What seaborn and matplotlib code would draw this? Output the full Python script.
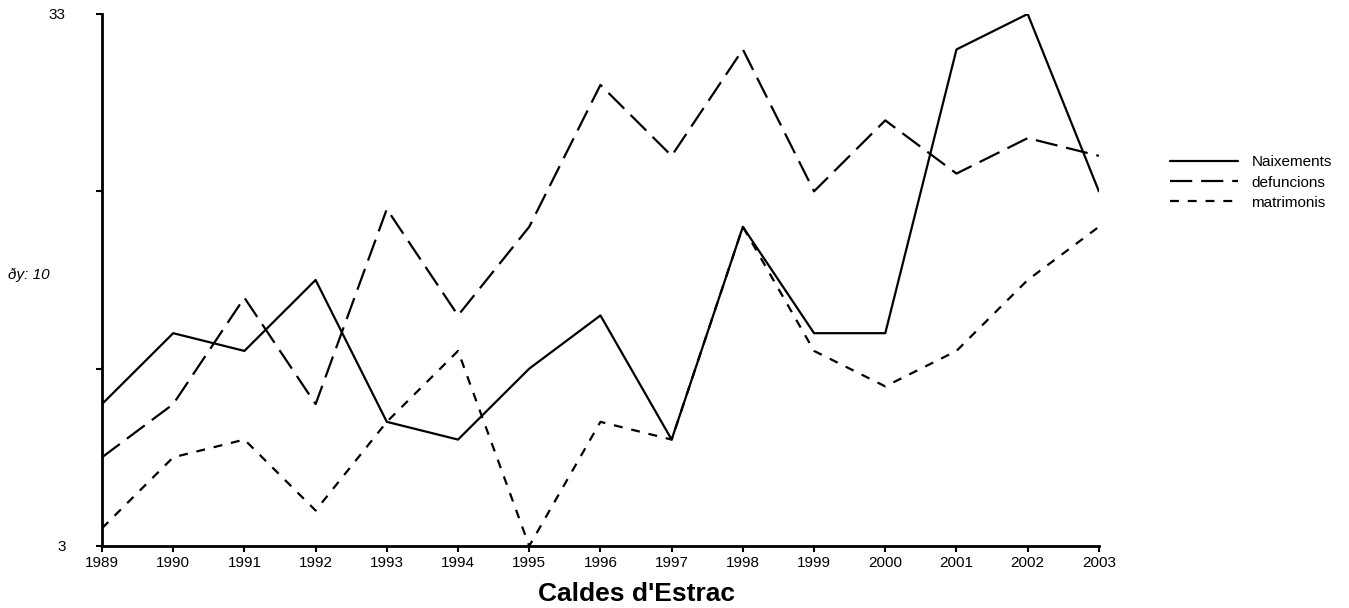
import numpy as np
import pandas as pd
import matplotlib
matplotlib.use('Agg')
import matplotlib.pyplot as plt
import seaborn as sns

years = [1989, 1990, 1991, 1992, 1993, 1994, 1995, 1996, 1997, 1998, 1999, 2000, 2001, 2002, 2003]
naixements = [11, 15, 14, 18, 10, 9, 13, 16, 9, 21, 15, 15, 31, 33, 23]
defuncions = [8, 11, 17, 11, 22, 16, 21, 29, 25, 31, 23, 27, 24, 26, 25]
matrimonis = [4, 8, 9, 5, 10, 14, 3, 10, 9, 21, 14, 12, 14, 18, 21]
series_names = ['Naixements', 'defuncions', 'matrimonis']

df = pd.DataFrame({
    'any': years * 3,
    'valor': naixements + defuncions + matrimonis,
    'serie': [n for n in series_names for _ in years],
})

sns.set_style('white')
plt.rcParams['font.family'] = ['Liberation Sans', 'DejaVu Sans']
plt.rcParams['text.color'] = 'black'
plt.rcParams['axes.labelcolor'] = 'black'
plt.rcParams['xtick.color'] = 'black'
plt.rcParams['ytick.color'] = 'black'

fig = plt.figure(figsize=(13.49, 6.08), dpi=100)
ax = fig.add_axes([0.0756, 0.102, 0.739, 0.875])

sns.lineplot(data=df, x='any', y='valor', style='serie', color='black',
             dashes={'Naixements': '', 'defuncions': (10, 4), 'matrimonis': (4, 4)},
             linewidth=1.6, ax=ax, legend=True)

ax.set_xlim(1989, 2003)
ax.set_ylim(3, 33)
ax.set_xticks(years)
ax.set_xticklabels([str(y) for y in years], fontsize=11)
ax.set_yticks([3, 13, 23, 33])
ax.set_yticklabels(['3', '', '', '33'], fontsize=11)
ax.tick_params(axis='y', direction='out', length=4, width=1.5, pad=22, left=True)
ax.tick_params(axis='x', direction='out', length=4, width=1.5, pad=3, bottom=True)
ax.set_xlabel("Caldes d'Estrac", fontsize=19, fontweight='bold')
ax.xaxis.set_label_coords(0.536, -0.068)
ax.set_ylabel('')
for side in ['top', 'right']:
    ax.spines[side].set_visible(False)
for side in ['left', 'bottom']:
    ax.spines[side].set_linewidth(2)
    ax.spines[side].set_color('black')

fig.text(0.006, 0.547, 'ðy: 10', fontsize=11, style='italic', va='center')

leg = ax.legend(loc='upper left', bbox_to_anchor=(1.058, 0.76), frameon=False,
                fontsize=11, handlelength=4.4, handletextpad=0.9, labelspacing=0.4)
for line in leg.get_lines():
    line.set_linewidth(1.6)

fig.savefig('out.png', dpi=100)
